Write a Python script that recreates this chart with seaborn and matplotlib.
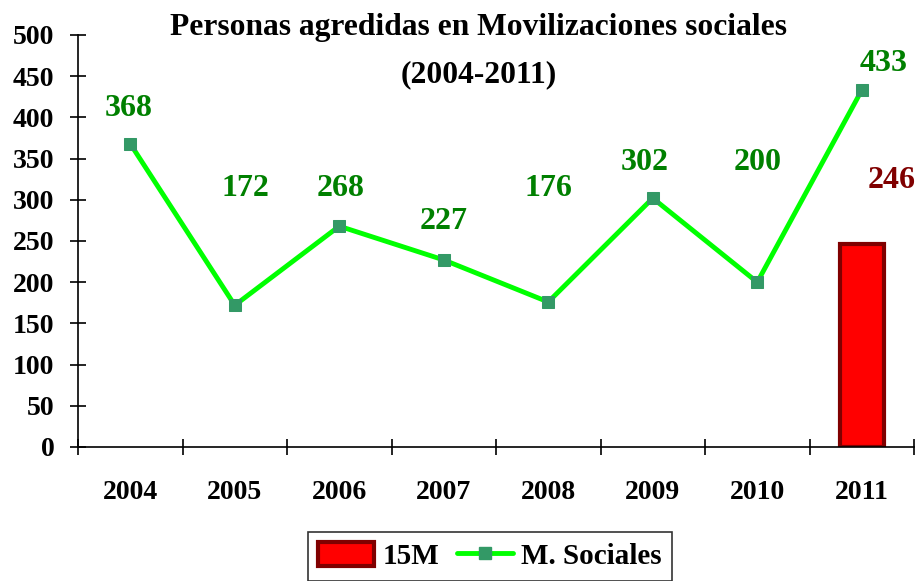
import numpy as np
import pandas as pd
import matplotlib
matplotlib.use("Agg")
import matplotlib.pyplot as plt
import seaborn as sns
from matplotlib.patches import Patch
from matplotlib.lines import Line2D

years = ["2004", "2005", "2006", "2007", "2008", "2009", "2010", "2011"]
sociales = [368, 172, 268, 227, 176, 302, 200, 433]
m15 = [np.nan, np.nan, np.nan, np.nan, np.nan, np.nan, np.nan, 246]
title_l1 = "Personas agredidas en Movilizaciones sociales"
title_l2 = "(2004-2011)"

# label offsets in pixels (dx, dy)
lab_off = [(-2, 35), (11, 117), (1, 38), (0, 38), (0, 113), (-8, 36), (0, 120), (22, 27)]

sns.set_theme(style="white")
plt.rcParams['font.family'] = ['Liberation Serif', 'DejaVu Serif']
plt.rcParams['font.weight'] = 'bold'
plt.rcParams['text.color'] = 'black'

fig = plt.figure(figsize=(9.19, 5.81), dpi=100)
ax = fig.add_axes([78/919, (581-447)/581, (914-78)/919, (447-35)/581])

df_bar = pd.DataFrame({"year": years, "v": m15})
sns.barplot(data=df_bar, x="year", y="v", ax=ax, color="#FF0000", width=0.42,
            edgecolor="#800000", linewidth=3, saturation=1)
df_line = pd.DataFrame({"x": np.arange(len(years)), "v": sociales})
sns.lineplot(data=df_line, x="x", y="v", ax=ax, color="#00FF00", linewidth=3.5,
             marker="s", markersize=9, markerfacecolor="#339966", markeredgecolor="#339966")

for i, v in enumerate(sociales):
    dx, dy = lab_off[i]
    ax.annotate(str(v), (i, v), xytext=(dx, dy), textcoords="offset pixels",
                ha="center", va="center", fontsize=23, fontweight="bold", color="#008000")
ax.annotate(str(m15[-1]), (7, m15[-1]), xytext=(30, 64), textcoords="offset pixels",
            ha="center", va="center", fontsize=23, fontweight="bold", color="#800000")

ax.set_xlim(-0.5, 7.5)
ax.set_ylim(0, 500)
ax.set_yticks(np.arange(0, 501, 50))
ax.set_xticks(np.arange(len(years)))
ax.set_xticklabels(years)
ax.set_xticks(np.arange(-0.5, 7.6, 1), minor=True)
ax.tick_params(axis="x", which="major", length=0, pad=24, labelsize=20)
ax.tick_params(axis="x", which="minor", direction="inout", length=12, width=1.2, color="black", bottom=True)
ax.tick_params(axis="y", direction="inout", length=12, width=1.2, color="black", left=True, labelsize=20, pad=11)
for t in ax.get_xticklabels() + ax.get_yticklabels():
    t.set_fontweight("bold")
    t.set_color("black")
ax.set_xlabel("")
ax.set_ylabel("")
for s in ["top", "right"]:
    ax.spines[s].set_visible(False)
for s in ["left", "bottom"]:
    ax.spines[s].set_color("black")
    ax.spines[s].set_linewidth(1.2)
ax.set_facecolor("white")

fig.text(479/919, 1 - 28/581, title_l1, ha="center", va="center", fontsize=22.7,
         fontweight="bold", color="black")
fig.text(479/919, 1 - 75/581, title_l2, ha="center", va="center", fontsize=22.7,
         fontweight="bold", color="black")

handles = [Patch(facecolor="#FF0000", edgecolor="#800000", linewidth=3, label="15M"),
           Line2D([0], [0], color="#00FF00", linewidth=3.5, marker="s", markersize=9,
                  markerfacecolor="#339966", markeredgecolor="#339966", label="M. Sociales")]
leg = fig.legend(handles=handles, loc="upper center", bbox_to_anchor=(490/919, 1 - 532/581),
                 ncol=2, frameon=True, fancybox=False, edgecolor="black",
                 prop={"size": 21, "weight": "bold"}, handlelength=1.9, handleheight=0.9,
                 columnspacing=0.62, handletextpad=0.3, borderaxespad=0, borderpad=0.35)
leg.get_frame().set_linewidth(1.2)
for t in leg.get_texts():
    t.set_color("black")

fig.savefig("out.png", dpi=100, facecolor="white")
